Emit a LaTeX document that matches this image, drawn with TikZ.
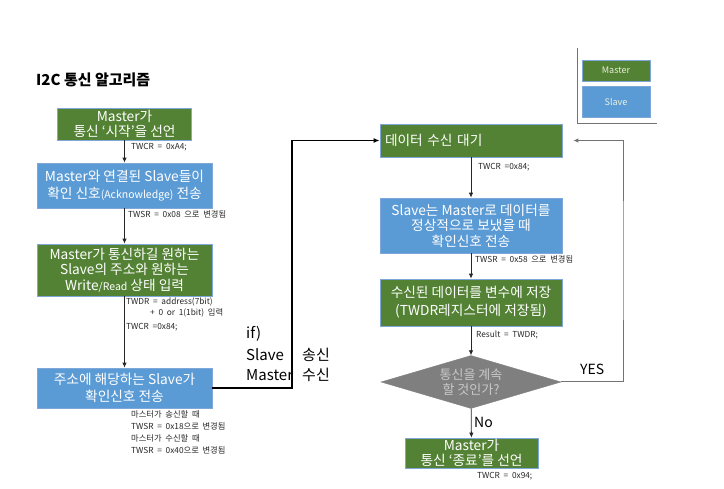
\documentclass[tikz,border=0pt]{standalone}
\usepackage{fontspec}
\setmainfont{Noto Sans CJK KR}
\usetikzlibrary{shapes.geometric,arrows.meta}
\definecolor{mgreen}{HTML}{548235}
\definecolor{sblue}{HTML}{5B9BD5}
\definecolor{bord}{HTML}{7FA7D9}
\definecolor{dgray}{HTML}{7F7F7F}
\definecolor{lgray}{HTML}{C9C9C9}
\definecolor{lcream}{HTML}{E8EFD8}
\begin{document}
\begin{tikzpicture}[x=1pt,y=-1pt,
  box/.style={draw=bord,line width=0.7pt,text=white,align=center,inner sep=1pt,
    font=\fontsize{13.7}{15.5}\selectfont},
  mbox/.style={box,fill=mgreen},
  sbox/.style={box,fill=sblue},
  lbl/.style={anchor=west,inner sep=0pt,text=black!85,font=\fontsize{8.3}{10}\selectfont},
  big/.style={anchor=west,inner sep=0pt,font=\fontsize{15}{18}\selectfont},
  arr/.style={draw=black!85,line width=0.8pt,-{Latex[length=5pt,width=4.5pt]}}
]
\useasboundingbox (0,0) rectangle (724,489);

% title
\node[anchor=west,inner sep=0pt,font=\fontsize{15}{18}\selectfont\bfseries] (title) at (36,80) {I2C 통신 알고리즘};

% legend
\coordinate (lgt) at (577,48);
\coordinate (lgb) at (577,124);
\coordinate (lgr) at (657,124);
\draw[draw=black!55,line width=1pt] (lgt) -- (lgb) -- (lgr);
\node[box,fill=mgreen,minimum width=68pt,minimum height=21pt,text=lcream,font=\fontsize{9}{10}\selectfont] (lm) at (616,70.5) {Master};
\node[box,fill=sblue,minimum width=68pt,minimum height=31pt,text=lcream!80!white,font=\fontsize{9}{10}\selectfont] (ls) at (616,101.5) {Slave};

% left column
\node[mbox,minimum width=134pt,minimum height=32pt,font=\fontsize{13.7}{14.5}\selectfont] (b1) at (124.5,124) {Master가\\통신 ‘시작’을 선언};
\node[sbox,minimum width=175pt,minimum height=45pt,font=\fontsize{13.7}{17.5}\selectfont] (b2) at (124.5,185.5) {Master와 연결된 Slave들이\\확인 신호{\fontsize{10.5}{12}\selectfont(Acknowledge)} 전송};
\node[mbox,minimum width=175pt,minimum height=52pt] (b3) at (124.5,270) {Master가 통신하길 원하는\\Slave의 주소와 원하는\\Write{\fontsize{10.5}{12}\selectfont/Read} 상태 입력};
\node[sbox,minimum width=175pt,minimum height=40pt,font=\fontsize{13.7}{17}\selectfont] (b4) at (124.5,388) {주소에 해당하는 Slave가\\확인신호 전송};

\draw[arr] (b1) -- (b2);
\draw[arr] (b2) -- (b3);
\draw[arr] (b3) -- (b4);

\node[lbl] (t1) at (131,147) {TWCR\ \ =\ \ 0xA4;};
\node[lbl] (t2) at (128,214) {TWSR\ \ =\ \ 0x08\ \ 으로\ \ 변경됨};
\node[lbl] (t3) at (126,302) {TWDR\ \ =\ \ address(7bit)};
\node[lbl] (t4) at (150,313) {+\ \ 0\ \ or\ \ 1(1bit)\ \ 입력};
\node[lbl] (t5) at (126,327) {TWCR\ \ =0x84;};
\node[lbl] (t6) at (131,414) {마스터가\ \ 송신할\ \ 때};
\node[lbl] (t7) at (131,426) {TWSR\ \ =\ \ 0x18으로\ \ 변경됨};
\node[lbl] (t8) at (131,438) {마스터가\ \ 수신할\ \ 때};
\node[lbl] (t9) at (131,450) {TWSR\ \ =\ \ 0x40으로\ \ 변경됨};

% right column
\node[mbox,minimum width=182pt,minimum height=33pt,text width=172pt,align=left] (b5) at (471,140.5) {데이터 수신 대기};
\node[sbox,minimum width=182pt,minimum height=55pt] (b6) at (471,225.5) {Slave는 Master로 데이터를\\정상적으로 보냈을 때\\확인신호 전송};
\node[mbox,minimum width=182pt,minimum height=47pt,font=\fontsize{13.7}{18}\selectfont] (b7) at (471,302.5) {수신된 데이터를 변수에 저장\\(TWDR레지스터에 저장됨)};
\node[diamond,fill=dgray,draw=dgray,aspect=3.4,inner sep=0pt,minimum width=180pt,minimum height=53pt,text=lgray,align=center,font=\fontsize{13}{15}\selectfont] (dia) at (471,382) {통신을 계속\\할 것인가?};
\node[mbox,minimum width=133pt,minimum height=30pt,font=\fontsize{13.7}{14.5}\selectfont] (b8) at (471.5,453) {Master가\\통신 ‘종료’를 선언};

\draw[arr] (b5) -- (b6);
\draw[arr] (b6) -- (b7);
\draw[arr] (b7) -- (dia);
\draw[arr] (dia) -- (b8);

\node[lbl] (r1) at (478,167) {TWCR\ \ =0x84;};
\node[lbl] (r2) at (475,259) {TWSR\ \ =\ \ 0x58\ \ 으로\ \ 변경됨};
\node[lbl] (r3) at (476,335) {Result\ \ =\ \ TWDR;};
\node[lbl] (r4) at (477,476) {TWCR\ \ =\ \ 0x94;};

% if connector
\coordinate (ifc) at (292,264);
\draw[black,line width=1.6pt,-{Latex[length=6pt,width=5pt]}] (b4.east) -| (ifc) |- (b5.west);
\node[big] (if1) at (246,334) {if)};
\node[big] (if2) at (246,355) {Slave};
\node[big] (if3) at (246,375) {Master};
\node[big] (if4) at (302,355) {송신};
\node[big] (if5) at (302,375) {수신};

% yes loop
\coordinate (yc) at (623,260);
\draw[draw=black!55,line width=1pt,-{Latex[length=5pt,width=4.5pt]},shorten >=11pt] (dia.east) -| (yc) |- (b5.east);
\node[big,font=\fontsize{14}{16}\selectfont] (yes) at (580,369) {YES};
\node[big,font=\fontsize{14}{16}\selectfont] (no) at (474,422) {No};
\end{tikzpicture}
\end{document}
